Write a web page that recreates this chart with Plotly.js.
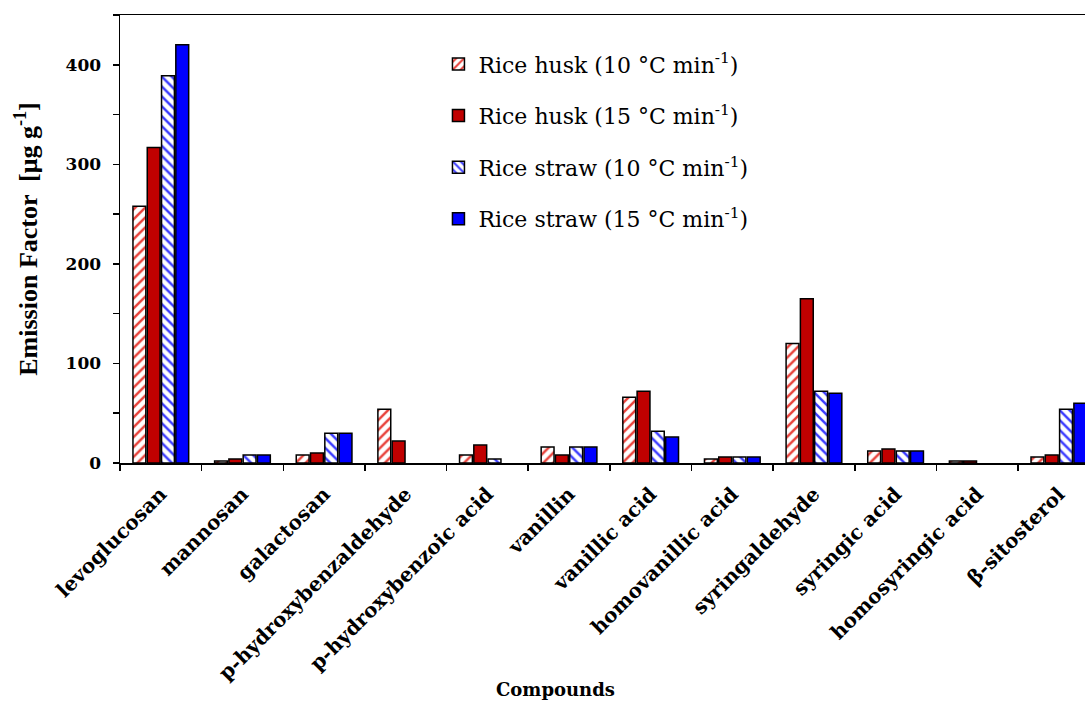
<!DOCTYPE html>
<html>
<head>
<meta charset="utf-8">
<script src="https://cdn.plot.ly/plotly-3.0.1.min.js"></script>
<style>html,body{margin:0;padding:0;background:#fff;}#chart{width:1085px;height:705px;}</style>
</head>
<body>
<div id="chart"></div>
<script>
const categories = ["levoglucosan","mannosan","galactosan","p-hydroxybenzaldehyde","p-hydroxybenzoic acid","vanillin","vanillic acid","homovanillic acid","syringaldehyde","syringic acid","homosyringic acid","β-sitosterol"];
const huskSlow  = [258, 2, 8, 54, 8, 16, 66, 4, 120, 12, 2, 6];
const huskFast  = [317, 4, 10, 22, 18, 8, 72, 6, 165, 14, 2, 8];
const strawSlow = [389, 8, 30, null, 4, 16, 32, 6, 72, 12, null, 54];
const strawFast = [420, 8, 30, null, null, 16, 26, 6, 70, 12, null, 60];
const seriesNames = [
  "Rice husk (10 °C min<sup>-1</sup>)",
  "Rice husk (15 °C min<sup>-1</sup>)",
  "Rice straw (10 °C min<sup>-1</sup>)",
  "Rice straw (15 °C min<sup>-1</sup>)"
];
const xTitle = "Compounds";
const yTitle = "Emission Factor  [μg g<sup>-1</sup>]";

const line = {color: "#000", width: 1.5};
const traces = [
  {y: huskSlow, name: seriesNames[0], marker: {color: "#fff", line: line, pattern: {shape: "/", fgcolor: "#e8413a", bgcolor: "#fff", size: 7, solidity: 0.35}}},
  {y: huskFast, name: seriesNames[1], marker: {color: "#c00000", line: line}},
  {y: strawSlow, name: seriesNames[2], marker: {color: "#fff", line: line, pattern: {shape: "\\", fgcolor: "#3a3aff", bgcolor: "#fff", size: 7, solidity: 0.35}}},
  {y: strawFast, name: seriesNames[3], marker: {color: "#0000ff", line: line}}
].map((t, i) => Object.assign({type: "bar", x: categories, legendgroup: "g" + i, hoverinfo: "y"}, t));

const serif = "Liberation Serif, Times New Roman, serif";
const wide = "DejaVu Serif, serif";
const layout = {
  width: 1085, height: 705,
  margin: {l: 120, r: 0, t: 15, b: 242},
  paper_bgcolor: "#fff", plot_bgcolor: "#fff",
  barmode: "group", bargap: 0.3, bargroupgap: 0.1,
  showlegend: true,
  legend: {x: 0.33, y: 0.937, xanchor: "left", yanchor: "top", bgcolor: "rgba(0,0,0,0)",
           font: {family: wide, size: 22, color: "#000"}, tracegroupgap: 20, itemwidth: 30},
  xaxis: {
    type: "category", range: [-0.5, 11.32],
    showline: true, linecolor: "#000", linewidth: 1.5, mirror: true,
    ticks: "outside", ticklen: 6, tickwidth: 1.5, tickcolor: "#000", tickson: "boundaries",
    tickangle: -45, ticklabelstandoff: 10,
    tickfont: {family: wide, size: 20, color: "#000", weight: "bold"},
    showgrid: false, zeroline: false
  },
  yaxis: {
    range: [0, 450], dtick: 100, tick0: 0,
    showline: true, linecolor: "#000", linewidth: 1.5,
    ticks: "outside", ticklen: 6, tickwidth: 1.5, tickcolor: "#000",
    minor: {dtick: 50, ticks: "outside", ticklen: 6, tickwidth: 1.5, tickcolor: "#000"},
    ticklabelstandoff: 8,
    tickfont: {family: wide, size: 17, color: "#000", weight: "bold"},
    showgrid: false, zeroline: false,
    title: {text: "<b>" + yTitle + "</b>", font: {family: serif, size: 26, color: "#000"}, standoff: 20}
  },
  annotations: [{
    text: "<b>" + xTitle + "</b>", xref: "paper", yref: "paper", x: 0.451, y: -0.505,
    xanchor: "center", yanchor: "middle", showarrow: false,
    font: {family: wide, size: 18, color: "#000"}
  }]
};

Plotly.newPlot("chart", traces, layout, {staticPlot: true});
</script>
</body>
</html>
